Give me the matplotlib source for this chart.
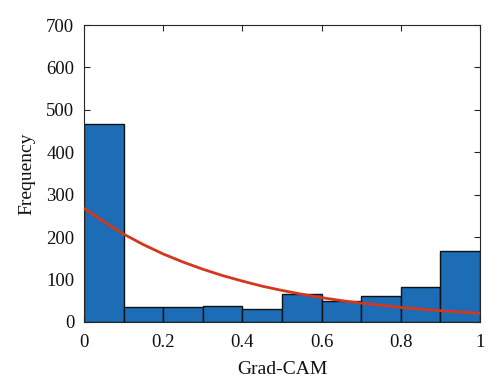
import matplotlib
matplotlib.use("Agg")
import matplotlib.pyplot as plt
import numpy as np

# histogram counts, 10 bins over [0, 1]
bin_edges = [0.0, 0.1, 0.2, 0.3, 0.4, 0.5, 0.6, 0.7, 0.8, 0.9, 1.0]
counts = [467, 34, 36, 38, 30, 65, 49, 62, 82, 167]

# fitted curve, every 0.05
fit_x = [0.0, 0.05, 0.1, 0.15, 0.2, 0.25, 0.3, 0.35, 0.4, 0.45, 0.5,
         0.55, 0.6, 0.65, 0.7, 0.75, 0.8, 0.85, 0.9, 0.95, 1.0]
fit_y = [268, 236, 207, 182, 160, 141, 124, 109, 96, 84, 74,
         65, 57, 50, 44, 39, 34, 30, 26, 23, 20]

xticks = [0, 0.2, 0.4, 0.6, 0.8, 1]
xticklabels = ["0", "0.2", "0.4", "0.6", "0.8", "1"]
yticks = [0, 100, 200, 300, 400, 500, 600, 700]

BAR = "#1C6DB5"
RED = "#D4371C"
AX = "#262626"

plt.rcParams["font.family"] = ["Liberation Serif", "DejaVu Serif"]

fig = plt.figure(figsize=(5.0, 3.91), dpi=100)
ax = fig.add_axes([0.168, 0.177, 0.792, 0.759])

lefts = bin_edges[:-1]
widths = np.diff(bin_edges)
ax.bar(lefts, counts, width=widths, align="edge", color=BAR,
       edgecolor="#111111", linewidth=1.0, zorder=2)
ax.plot(fit_x, fit_y, color=RED, lw=2.0, zorder=3, solid_capstyle="butt",
        solid_joinstyle="round")

ax.set_xlim(0, 1)
ax.set_ylim(0, 700)
ax.set_xticks(xticks)
ax.set_xticklabels(xticklabels)
ax.set_yticks(yticks)

for s in ax.spines.values():
    s.set_color(AX)
    s.set_linewidth(0.8)
ax.tick_params(direction="in", top=True, right=True, length=4, width=0.8,
               colors=AX, labelsize=13.5)
ax.tick_params(axis="x", pad=9)
ax.tick_params(axis="y", pad=7)
for lab in ax.get_xticklabels() + ax.get_yticklabels():
    lab.set_color("#111111")

ax.set_xlabel("Grad-CAM", fontsize=14, color="#111111", labelpad=7)
ax.set_ylabel("Frequency", fontsize=14, color="#111111", labelpad=8)

fig.savefig("out.png", dpi=100, facecolor="white")
